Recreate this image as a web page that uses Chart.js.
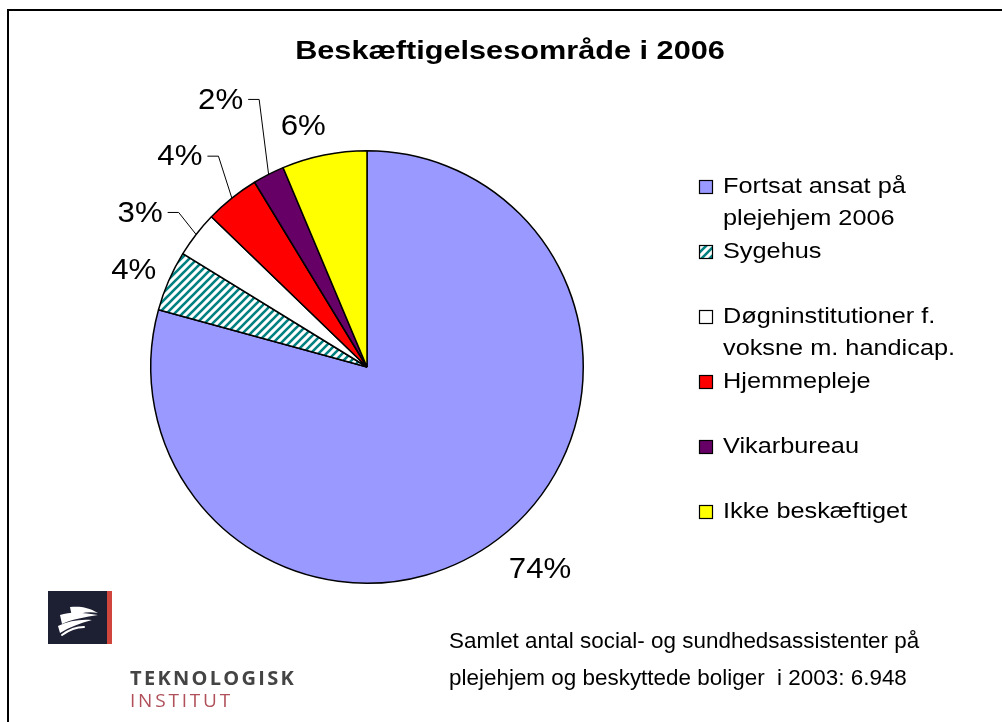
<!DOCTYPE html>
<html>
<head>
<meta charset="utf-8">
<script src="https://cdn.jsdelivr.net/npm/chart.js@4/dist/chart.umd.min.js"></script>
<style>
  html, body { margin: 0; padding: 0; background: #fff; }
  #wrap { position: relative; width: 1002px; height: 722px; overflow: hidden; }
  #chart { position: absolute; left: 0; top: 0; }
  .frame-top { position: absolute; left: 7px; top: 9px; width: 995px; height: 2px; background: #000; }
  .frame-left { position: absolute; left: 7px; top: 9px; width: 2px; height: 713px; background: #000; }
  .note { position: absolute; left: 449px; font: 22px "Liberation Sans", Arial, sans-serif; color: #000; white-space: pre; transform-origin: 0 0; transform: scaleX(1.02); }
  .logo { position: absolute; left: 48px; top: 591px; width: 64px; height: 53px; background: #1d2033; }
  .logo .red { position: absolute; right: 0; top: 0; width: 5px; height: 53px; background: #d0463c; }
  .brand { position: absolute; left: 130px; font-family: "Open Sans", "Liberation Sans", sans-serif; white-space: pre; }
</style>
</head>
<body>
<div id="wrap">
  <canvas id="chart" width="1002" height="722"></canvas>
  <div class="frame-top"></div>
  <div class="frame-left"></div>
  <div class="logo">
    <svg width="59" height="53" viewBox="0 0 59 53">
      <path d="M22 16 C32 15 40 16 50 22 C40 20 32 22 24 26 Z" fill="#fff"/>
      <path d="M12 24 C24 20 38 22 50 24 C38 26 24 28 14 33 Z" fill="#fff"/>
      <path d="M10 35 C20 30 32 28 44 29 C32 32 22 36 12 42 Z" fill="#fff"/>
      <path d="M14 44 C22 38 30 36 36 36" stroke="#fff" stroke-width="2" fill="none" stroke-linecap="round"/>
    </svg>
    <div class="red"></div>
  </div>
  <div class="brand" style="top:664px;font-size:20px;font-weight:700;color:#444;letter-spacing:2.3px;">TEKNOLOGISK</div>
  <div class="brand" style="top:687px;font-size:19px;color:#b0505a;letter-spacing:2.8px;">INSTITUT</div>
  <div class="note" style="top:628px;">Samlet antal social- og sundhedsassistenter på</div>
  <div class="note" style="top:665px;">plejehjem og beskyttede boliger  i 2003: 6.948</div>
</div>
<script>
const title = "Beskæftigelsesområde i 2006"
const categories = [
  ["Fortsat ansat på", "plejehjem 2006"],
  ["Sygehus"],
  ["Døgninstitutioner f.", "voksne m. handicap."],
  ["Hjemmepleje"],
  ["Vikarbureau"],
  ["Ikke beskæftiget"]
]
const shares = [73.8, 4.2, 3.2, 3.8, 2.2, 5.9]

const FONT = "'Liberation Sans', Arial, sans-serif"

// label placement relative to the slice's outer edge midpoint
const labelOffsets = [[42, 30], [-35, -11], [-56, -22], [-52, -42], [-48, -75], [-21, -29]]
const hasLeader = [false, false, true, true, true, false]

function hatch() {
  const c = document.createElement("canvas")
  c.width = 8
  c.height = 8
  const g = c.getContext("2d")
  g.fillStyle = "#fff"
  g.fillRect(0, 0, 8, 8)
  g.strokeStyle = "#008080"
  g.lineWidth = 2.6
  g.beginPath()
  g.moveTo(-4, 4); g.lineTo(4, -4)
  g.moveTo(0, 8); g.lineTo(8, 0)
  g.moveTo(4, 12); g.lineTo(12, 4)
  g.stroke()
  return g.createPattern(c, "repeat")
}

// text drawn a bit wider, like the original
function wideText(c, txt, x, y, sx) {
  c.save()
  c.translate(x, y)
  c.scale(sx, 1)
  c.fillText(txt, 0, 0)
  c.restore()
}

const ctx = document.getElementById("chart").getContext("2d")
const fills = ["#9999FF", hatch(), "#FFFFFF", "#FF0000", "#660066", "#FFFF00"]

const textPlugin = {
  id: "texts",
  afterDatasetsDraw(chart) {
    const c = chart.ctx
    const meta = chart.getDatasetMeta(0)
    c.save()

    // title
    c.fillStyle = "#000"
    c.font = "bold 26px " + FONT
    c.textAlign = "center"
    c.textBaseline = "alphabetic"
    wideText(c, title, 510, 59, 1.18)

    // percentage labels
    c.font = "30px " + FONT
    c.textBaseline = "middle"
    meta.data.forEach((arc, i) => {
      const p = arc.getProps(["x", "y", "startAngle", "endAngle", "outerRadius"], true)
      const mid = (p.startAngle + p.endAngle) / 2
      const ex = p.x + Math.cos(mid) * p.outerRadius
      const ey = p.y + Math.sin(mid) * p.outerRadius
      const lx = ex + labelOffsets[i][0]
      const ly = ey + labelOffsets[i][1]
      const txt = Math.round(shares[i]) + "%"
      c.textAlign = "center"
      wideText(c, txt, lx, ly + 1, 1.04)
      if (hasLeader[i]) {
        const right = lx + c.measureText(txt).width * 1.04 / 2
        c.strokeStyle = "#000"
        c.lineWidth = 1
        c.beginPath()
        c.moveTo(right + 5, ly)
        c.lineTo(right + 16, ly)
        c.lineTo(ex, ey)
        c.stroke()
      }
    })

    // legend
    c.font = "22px " + FONT
    c.textAlign = "left"
    c.textBaseline = "alphabetic"
    categories.forEach((lines, i) => {
      const base = 193 + i * 65
      c.fillStyle = fills[i]
      c.fillRect(700, base - 12, 12, 12)
      c.strokeStyle = "#000"
      c.lineWidth = 1.2
      c.strokeRect(699.5, base - 12.5, 13, 13)
      c.fillStyle = "#000"
      lines.forEach((t, k) => wideText(c, t, 723, base + k * 32, 1.15))
    })
    c.restore()
  }
}

new Chart(ctx, {
  type: "pie",
  data: {
    labels: categories,
    datasets: [{
      data: shares,
      backgroundColor: fills,
      borderColor: "#000",
      borderWidth: 1.5
    }]
  },
  options: {
    responsive: false,
    animation: false,
    events: [],
    layout: {
      padding: { left: 150, top: 150, right: 418, bottom: 138 }
    },
    plugins: {
      legend: { display: false },
      title: { display: false },
      tooltip: { enabled: false }
    }
  },
  plugins: [textPlugin]
})
</script>
</body>
</html>
